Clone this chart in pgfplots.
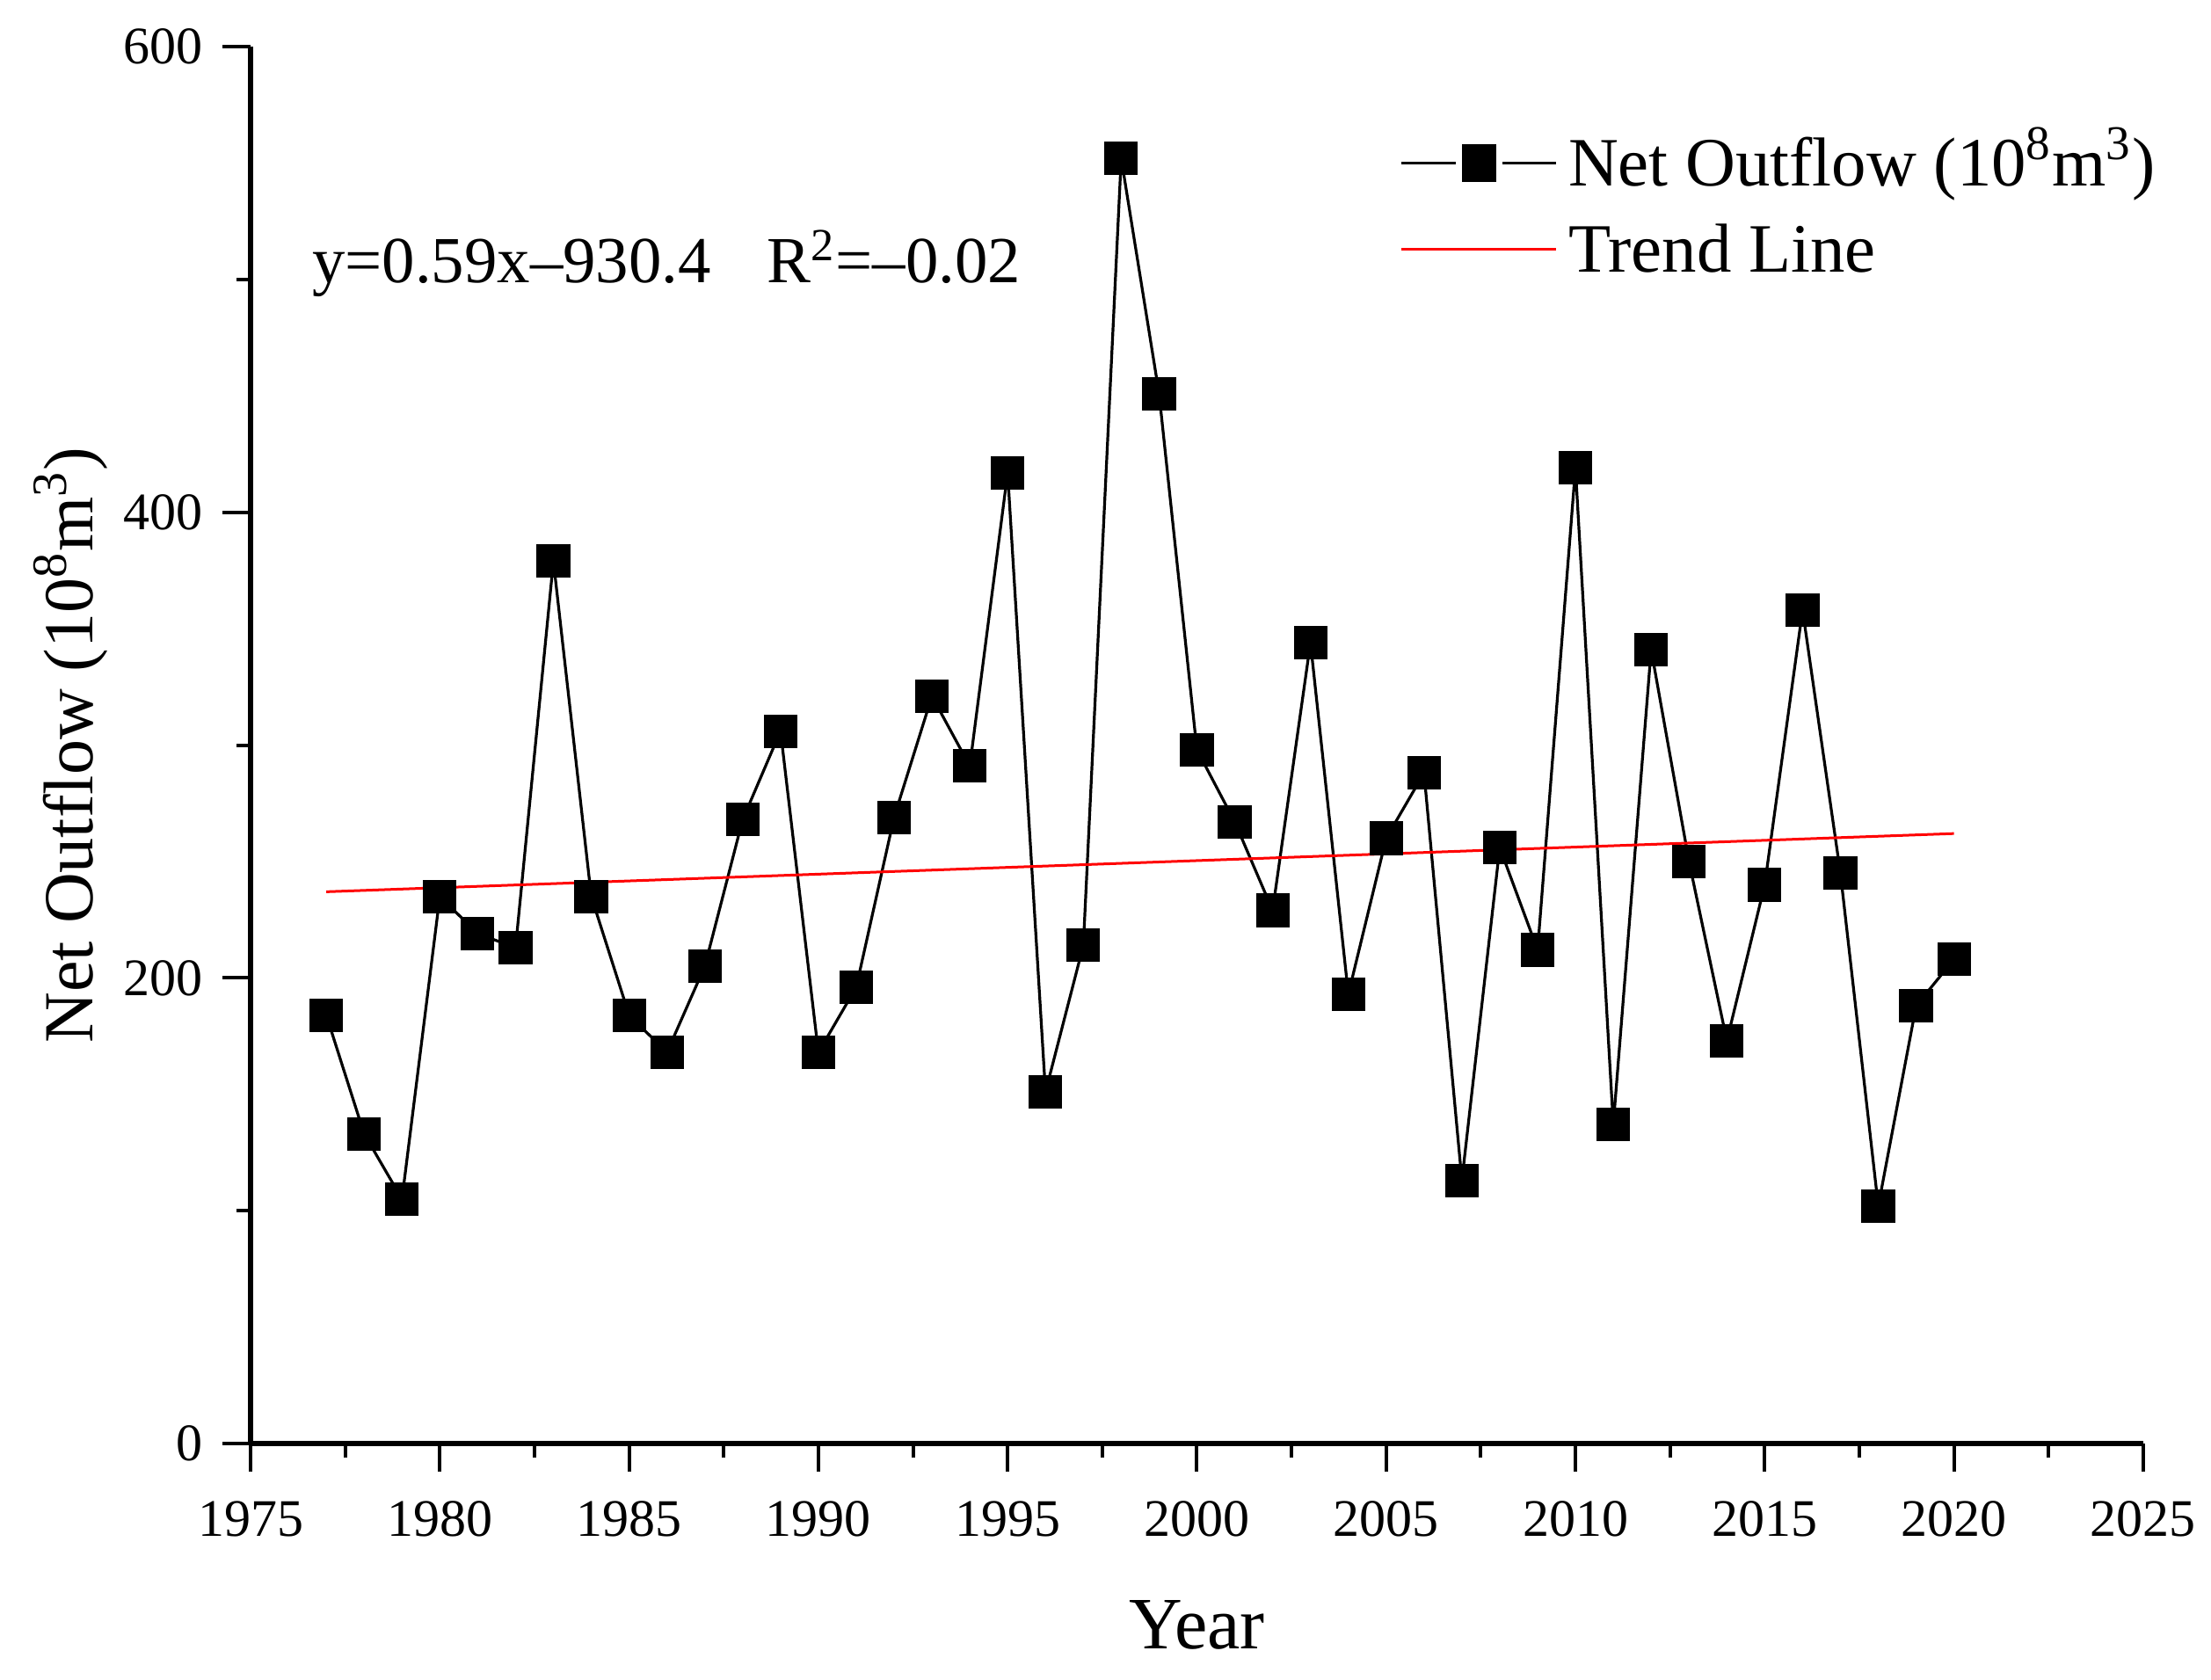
\documentclass[border=0pt]{standalone}
\usepackage{fontspec}
\setmainfont{Liberation Serif}
\usepackage{pgfplots}
\pgfplotsset{compat=1.18}

% net outflow, 10^8 m^3
\pgfplotstableread{
year flow
1977 184
1978 133
1979 105
1980 235
1981 219
1982 213
1983 379
1984 235
1985 184
1986 168
1987 205
1988 268
1989 306
1990 168
1991 196
1992 269
1993 321
1994 291
1995 417
1996 151
1997 214
1998 552
1999 451
2000 298
2001 267
2002 229
2003 344
2004 193
2005 260
2006 288
2007 113
2008 256
2009 212
2010 419
2011 137
2012 341
2013 250
2014 173
2015 240
2016 358
2017 245
2018 102
2019 188
2020 208
}\flowdata

\begin{document}
\begin{tikzpicture}
\begin{axis}[
  scale only axis,
  width=538.25pt, height=397.25pt,
  xmin=1975, xmax=2025, ymin=0, ymax=600,
  xtick={1975,1980,...,2025},
  ytick={0,200,400,600},
  minor x tick num=1, minor y tick num=1,
  axis x line=bottom, axis y line=left,
  axis line style={-, line width=1.3pt},
  tick align=outside,
  major tick length=8pt, minor tick length=4pt,
  every tick/.style={black, line width=1pt},
  /pgf/number format/assume math mode=true,
  /pgf/number format/1000 sep={},
  tick label style={font=\fontsize{15}{18}\selectfont},
  xticklabel style={yshift=-4.8pt},
  yticklabel style={xshift=-2pt},
  xlabel={Year},
  xlabel style={font=\fontsize{21}{25}\selectfont, at={(axis description cs:0.5,-0.13)}, anchor=center},
  ylabel={Net Outflow (10\textsuperscript{8}m\textsuperscript{3})},
  ylabel style={font=\fontsize{20}{24}\selectfont, at={(axis description cs:-0.0952,0.5)}, anchor=center},
  clip=false,
  legend style={draw=none, fill=none, at={(rel axis cs:0.6015,0.941)}, anchor=north west,
    font=\fontsize{19.7}{24}\selectfont, row sep=6.5pt, column sep=3pt,
    nodes={inner sep=0pt, text height=14pt, text depth=4pt}},
  legend cell align=left,
]
\addplot[black, line width=0.8pt, mark=square*, mark size=4.375pt, mark options={solid, fill=black},
  legend image code/.code={
    \draw[black, line width=0.8pt] (0pt,1.6pt) -- (15.3pt,1.6pt);
    \draw[black, line width=0.8pt] (28.7pt,1.6pt) -- (44pt,1.6pt);
    \fill[black] (17.6pt,-3.4pt) rectangle (26.4pt,6.6pt);
  }] table[x=year, y=flow] {\flowdata};
\addlegendentry{Net Outflow (10\textsuperscript{8}m\textsuperscript{3})}
\addplot[red, line width=0.75pt,
  legend image code/.code={\draw[red, line width=0.75pt] (0pt,1.6pt) -- (44pt,1.6pt);}]
  coordinates {(1977,237) (2020,262)};
\addlegendentry{Trend Line}
\node[anchor=base west, font=\fontsize{18.7}{22}\selectfont] at (rel axis cs:0.026,0.831)
  {y=0.59x–930.4\hspace{16pt}R\textsuperscript{2}=–0.02};
\path (rel axis cs:-0.1324,-0.1687) rectangle (rel axis cs:1.0358,1.0334);
\end{axis}
\end{tikzpicture}
\end{document}
